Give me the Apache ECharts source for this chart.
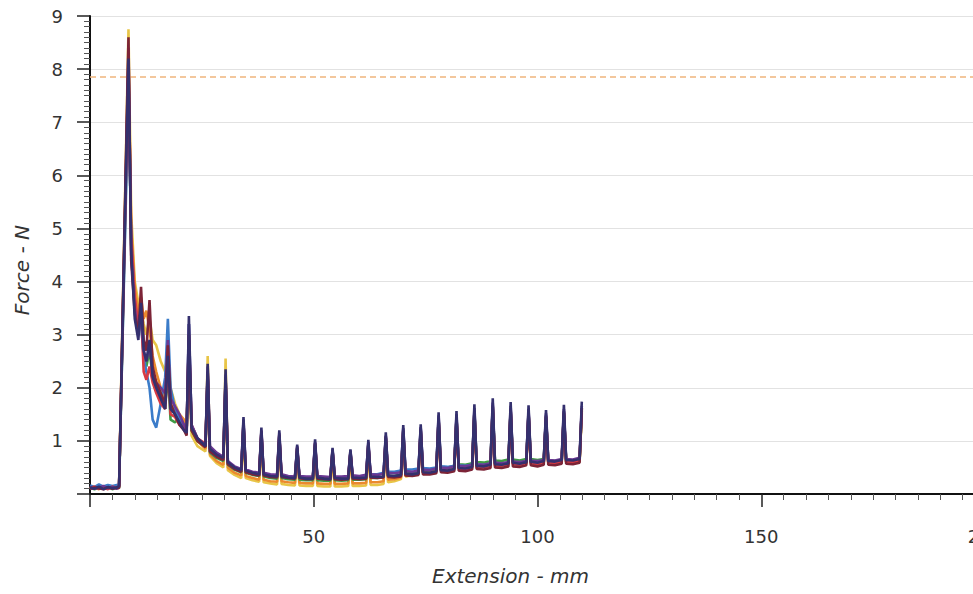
<!DOCTYPE html>
<html>
<head>
<meta charset="utf-8">
<title>Force vs Extension</title>
<script src="https://cdn.jsdelivr.net/npm/echarts@6/dist/echarts.min.js"></script>
<style>
  html, body { margin: 0; padding: 0; background: #ffffff; }
  #chart { width: 973px; height: 594px; }
</style>
</head>
<body>
<div id="chart"></div>
<script>
// Extension (mm) sample positions shared by every specimen trace
const extension = [
  0, 1, 2, 3, 4, 5, 6, 6.5,
  8.6, 9.2, 10.0, 10.8,
  11.4, 12.0, 12.6, 13.3, 14.0, 14.8, 15.8, 16.8, 17.4, 18.0, 19.0, 20.0, 21.0, 21.6, 22.1, 22.7, 24.0, 25.8,
  26.3, 26.8, 28.3, 29.8,
  30.3, 30.8, 32.3, 33.8,
  34.3, 34.8, 36.3, 37.8,
  38.3, 38.8, 40.3, 41.8,
  42.3, 42.8, 44.3, 45.8,
  46.3, 46.8, 48.3, 49.8,
  50.3, 50.8, 52.3, 53.7,
  54.2, 54.7, 56.2, 57.7,
  58.2, 58.7, 60.2, 61.7,
  62.2, 62.7, 64.2, 65.6,
  66.1, 66.6, 68.0, 69.5,
  70.0, 70.5, 72.0, 73.4,
  73.9, 74.4, 75.9, 77.4,
  77.9, 78.4, 79.9, 81.4,
  81.9, 82.4, 83.9, 85.4,
  85.9, 86.4, 88.0, 89.5,
  90.0, 90.5, 92.0, 93.5,
  94.0, 94.5, 96.0, 97.5,
  98.0, 98.5, 100.0, 101.4,
  101.9, 102.4, 103.9, 105.4,
  105.9, 106.4, 107.9, 109.4,
  109.9
];

// Force (N) for each specimen, one value per extension sample
const forceYellow = [
  0.14, 0.12, 0.16, 0.11, 0.15, 0.13, 0.12, 0.16,
  8.75, 5.3, 4.0, 3.6,
  3.5, 3.2, 3.0, 3.3, 2.9, 2.8, 2.5, 2.3, 2.7, 2.0, 1.7, 1.5, 1.3, 1.2, 2.6, 1.1, 0.9, 0.8,
  2.6, 0.72, 0.58, 0.5,
  2.55, 0.45, 0.36, 0.3,
  1.2, 0.3, 0.26, 0.23,
  1.0, 0.22, 0.2, 0.18,
  0.95, 0.19, 0.17, 0.16,
  0.76, 0.16, 0.15, 0.15,
  0.84, 0.15, 0.14, 0.14,
  0.72, 0.14, 0.14, 0.15,
  0.7, 0.15, 0.15, 0.16,
  0.82, 0.17, 0.17, 0.19,
  0.96, 0.22, 0.24, 0.28,
  1.1, 0.33, 0.35, 0.38,
  1.12, 0.4, 0.41, 0.44,
  1.32, 0.46, 0.46, 0.49,
  1.35, 0.5, 0.49, 0.52,
  1.46, 0.53, 0.52, 0.55,
  1.56, 0.55, 0.54, 0.57,
  1.5, 0.57, 0.56, 0.58,
  1.45, 0.58, 0.57, 0.59,
  1.4, 0.59, 0.58, 0.6,
  1.46, 0.6, 0.59, 0.61,
  1.52
];
const forceOrange = [
  0.1, 0.13, 0.09, 0.14, 0.1, 0.12, 0.15, 0.13,
  8.3, 5.0, 3.9, 3.4,
  3.7, 3.3, 3.45, 3.1, 2.6, 2.3, 2.0, 1.8, 2.4, 1.7, 1.55, 1.5, 1.4, 1.3, 2.9, 1.2, 1.0, 0.85,
  2.2, 0.75, 0.62, 0.55,
  2.1, 0.5, 0.4, 0.35,
  1.25, 0.34, 0.3, 0.27,
  1.05, 0.27, 0.24, 0.23,
  1.0, 0.24, 0.22, 0.21,
  0.8, 0.21, 0.2, 0.2,
  0.88, 0.2, 0.19, 0.19,
  0.75, 0.19, 0.19, 0.2,
  0.72, 0.2, 0.2, 0.21,
  0.86, 0.22, 0.22, 0.24,
  1.0, 0.27, 0.28, 0.31,
  1.12, 0.34, 0.35, 0.38,
  1.15, 0.4, 0.41, 0.44,
  1.35, 0.46, 0.46, 0.49,
  1.38, 0.5, 0.49, 0.52,
  1.5, 0.53, 0.52, 0.55,
  1.6, 0.56, 0.55, 0.57,
  1.55, 0.58, 0.56, 0.59,
  1.5, 0.59, 0.57, 0.6,
  1.42, 0.6, 0.58, 0.61,
  1.5, 0.61, 0.6, 0.62,
  1.56
];
const forceGreen = [
  0.12, 0.09, 0.13, 0.1, 0.14, 0.09, 0.13, 0.12,
  7.9, 4.7, 3.5, 3.1,
  3.3, 2.6, 2.4, 2.7, 2.2, 2.0, 1.8, 1.6, 2.3, 1.4, 1.35, 1.45, 1.3, 1.2, 2.8, 1.2, 1.0, 0.9,
  2.2, 0.78, 0.68, 0.62,
  2.1, 0.55, 0.46, 0.41,
  1.3, 0.4, 0.36, 0.34,
  1.12, 0.33, 0.3, 0.29,
  1.08, 0.3, 0.28, 0.27,
  0.85, 0.27, 0.26, 0.26,
  0.92, 0.26, 0.25, 0.25,
  0.8, 0.26, 0.25, 0.26,
  0.78, 0.27, 0.27, 0.28,
  0.92, 0.3, 0.3, 0.32,
  1.05, 0.34, 0.34, 0.37,
  1.18, 0.4, 0.4, 0.43,
  1.2, 0.45, 0.45, 0.48,
  1.4, 0.51, 0.5, 0.53,
  1.42, 0.56, 0.55, 0.58,
  1.55, 0.6, 0.59, 0.62,
  1.64, 0.63, 0.62, 0.65,
  1.58, 0.65, 0.63, 0.66,
  1.52, 0.66, 0.64, 0.66,
  1.45, 0.64, 0.62, 0.63,
  1.52, 0.62, 0.6, 0.62,
  1.58
];
const forceBlue = [
  0.16, 0.13, 0.18, 0.14, 0.17, 0.15, 0.17, 0.18,
  7.6, 4.8, 3.6, 3.1,
  3.2, 2.6, 2.3, 2.0, 1.4, 1.25, 1.7, 2.2, 3.3, 2.0, 1.6, 1.4, 1.3, 1.2, 3.2, 1.3, 1.05, 0.9,
  2.3, 0.8, 0.7, 0.65,
  2.2, 0.57, 0.48, 0.43,
  1.35, 0.42, 0.38, 0.36,
  1.16, 0.36, 0.33, 0.32,
  1.1, 0.33, 0.31, 0.31,
  0.87, 0.31, 0.3, 0.3,
  0.95, 0.31, 0.3, 0.3,
  0.82, 0.31, 0.31, 0.32,
  0.8, 0.33, 0.33, 0.35,
  0.95, 0.37, 0.37, 0.4,
  1.08, 0.42, 0.42, 0.44,
  1.22, 0.46, 0.46, 0.48,
  1.24, 0.49, 0.48, 0.5,
  1.44, 0.52, 0.51, 0.53,
  1.46, 0.54, 0.53, 0.55,
  1.58, 0.56, 0.55, 0.57,
  1.68, 0.57, 0.56, 0.58,
  1.62, 0.58, 0.57, 0.59,
  1.56, 0.6, 0.58, 0.6,
  1.48, 0.6, 0.59, 0.61,
  1.56, 0.62, 0.61, 0.63,
  1.62
];
const forceRed = [
  0.11, 0.14, 0.1, 0.13, 0.09, 0.14, 0.11, 0.15,
  8.1, 4.9, 3.7, 3.2,
  3.5, 2.3, 2.15, 2.4, 2.1, 1.9, 1.7, 1.6, 2.5, 1.5, 1.45, 1.3, 1.25, 1.2, 3.0, 1.3, 1.05, 0.95,
  2.25, 0.82, 0.72, 0.66,
  2.15, 0.58, 0.49, 0.44,
  1.32, 0.43, 0.39, 0.37,
  1.15, 0.36, 0.33, 0.32,
  1.1, 0.33, 0.31, 0.3,
  0.86, 0.3, 0.29, 0.29,
  0.94, 0.3, 0.29, 0.28,
  0.8, 0.29, 0.28, 0.29,
  0.78, 0.3, 0.29, 0.3,
  0.93, 0.32, 0.31, 0.32,
  1.06, 0.34, 0.33, 0.35,
  1.18, 0.37, 0.36, 0.38,
  1.2, 0.4, 0.39, 0.42,
  1.4, 0.44, 0.43, 0.46,
  1.42, 0.47, 0.46, 0.49,
  1.54, 0.5, 0.5, 0.53,
  1.64, 0.53, 0.53, 0.56,
  1.58, 0.56, 0.55, 0.58,
  1.52, 0.58, 0.56, 0.6,
  1.45, 0.6, 0.58, 0.62,
  1.53, 0.61, 0.6, 0.63,
  1.6
];
const forcePurple = [
  0.13, 0.1, 0.12, 0.15, 0.11, 0.13, 0.1, 0.14,
  8.4, 4.5, 3.5, 3.0,
  3.4, 2.7, 2.5, 2.8, 2.3, 2.1, 2.0, 1.9, 2.9, 1.8, 1.65, 1.5, 1.3, 1.2, 3.2, 1.3, 1.05, 0.92,
  2.4, 0.9, 0.78, 0.7,
  2.25, 0.62, 0.52, 0.47,
  1.4, 0.46, 0.42, 0.4,
  1.2, 0.4, 0.37, 0.36,
  1.15, 0.37, 0.34, 0.33,
  0.9, 0.34, 0.33, 0.33,
  0.98, 0.34, 0.33, 0.32,
  0.84, 0.33, 0.33, 0.34,
  0.82, 0.35, 0.34, 0.36,
  0.98, 0.37, 0.36, 0.38,
  1.1, 0.4, 0.39, 0.41,
  1.24, 0.43, 0.42, 0.44,
  1.26, 0.46, 0.45, 0.48,
  1.48, 0.5, 0.49, 0.52,
  1.5, 0.53, 0.52, 0.55,
  1.62, 0.56, 0.55, 0.58,
  1.72, 0.59, 0.58, 0.6,
  1.66, 0.61, 0.6, 0.62,
  1.6, 0.63, 0.62, 0.64,
  1.52, 0.64, 0.63, 0.66,
  1.6, 0.66, 0.65, 0.68,
  1.66
];
const forceMaroon = [
  0.1, 0.12, 0.11, 0.09, 0.13, 0.1, 0.12, 0.11,
  8.6, 4.4, 3.4, 3.0,
  3.9, 2.9, 2.7, 3.65, 2.4, 2.1, 1.9, 1.7, 2.8, 1.7, 1.5, 1.3, 1.2, 1.1, 3.0, 1.2, 1.0, 0.88,
  2.3, 0.8, 0.7, 0.64,
  2.2, 0.56, 0.47, 0.42,
  1.35, 0.41, 0.37, 0.35,
  1.18, 0.35, 0.32, 0.31,
  1.12, 0.32, 0.3, 0.29,
  0.88, 0.3, 0.28, 0.28,
  0.96, 0.29, 0.28, 0.27,
  0.82, 0.28, 0.27, 0.28,
  0.8, 0.29, 0.28, 0.29,
  0.95, 0.31, 0.3, 0.31,
  1.08, 0.32, 0.31, 0.33,
  1.2, 0.35, 0.34, 0.36,
  1.22, 0.37, 0.37, 0.39,
  1.42, 0.41, 0.4, 0.43,
  1.45, 0.44, 0.43, 0.46,
  1.56, 0.47, 0.46, 0.49,
  1.66, 0.5, 0.49, 0.52,
  1.6, 0.52, 0.51, 0.54,
  1.55, 0.54, 0.52, 0.55,
  1.47, 0.55, 0.54, 0.57,
  1.55, 0.57, 0.56, 0.59,
  1.62
];
const forceNavy = [
  0.12, 0.1, 0.14, 0.09, 0.13, 0.11, 0.12, 0.15,
  8.2, 4.6, 3.3, 2.9,
  3.6, 2.7, 2.5, 2.9, 2.2, 2.0, 1.8, 1.6, 2.6, 1.6, 1.5, 1.35, 1.2, 1.15, 3.35, 1.25, 1.05, 0.9,
  2.45, 0.85, 0.74, 0.68,
  2.35, 0.6, 0.5, 0.45,
  1.45, 0.44, 0.4, 0.37,
  1.25, 0.37, 0.34, 0.33,
  1.2, 0.34, 0.31, 0.3,
  0.93, 0.31, 0.29, 0.29,
  1.03, 0.31, 0.29, 0.28,
  0.87, 0.3, 0.29, 0.29,
  0.84, 0.31, 0.3, 0.31,
  1.02, 0.33, 0.32, 0.33,
  1.16, 0.35, 0.34, 0.36,
  1.3, 0.38, 0.37, 0.39,
  1.31, 0.41, 0.4, 0.43,
  1.54, 0.45, 0.44, 0.47,
  1.56, 0.49, 0.48, 0.51,
  1.69, 0.53, 0.52, 0.55,
  1.8, 0.56, 0.55, 0.58,
  1.73, 0.59, 0.57, 0.6,
  1.67, 0.61, 0.59, 0.62,
  1.58, 0.62, 0.61, 0.64,
  1.68, 0.64, 0.63, 0.66,
  1.74
];

// Axis scale settings and the reference force level
const forceTicks = [0, 9, 1];          // min, max, interval (N)
const extensionTicks = [0, 200, 50];   // min, max, interval (mm)
const referenceForce = 7.85;           // dashed reference level (N)

const traces = [
  { name: 'Specimen 1', values: forceYellow, color: '#e8c547' },
  { name: 'Specimen 2', values: forceOrange, color: '#ea8a2e' },
  { name: 'Specimen 3', values: forceGreen,  color: '#3f9b45' },
  { name: 'Specimen 4', values: forceBlue,   color: '#3b7cc9' },
  { name: 'Specimen 5', values: forceRed,    color: '#d63a43' },
  { name: 'Specimen 6', values: forcePurple, color: '#6b3893' },
  { name: 'Specimen 7', values: forceMaroon, color: '#7c2437' },
  { name: 'Specimen 8', values: forceNavy,   color: '#34306e' }
];

const FONT = 'DejaVu Sans';

const series = traces.map(function (t, k) {
  const s = {
    name: t.name,
    type: 'line',
    data: extension.map(function (x, i) { return [x, t.values[i]]; }),
    showSymbol: false,
    symbol: 'none',
    lineStyle: { color: t.color, width: 2.6 },
    itemStyle: { color: t.color },
    animation: false,
    z: 2 + k
  };
  if (k === 0) {
    s.markLine = {
      silent: true,
      symbol: 'none',
      label: { show: false },
      lineStyle: { color: '#f0b57e', type: [6, 4], width: 1.5 },
      data: [{ yAxis: referenceForce }]
    };
  }
  return s;
});

const chart = echarts.init(document.getElementById('chart'), null, { renderer: 'svg' });
chart.setOption({
  backgroundColor: '#ffffff',
  animation: false,
  grid: { left: 90, top: 16, width: 895, height: 478, containLabel: false, outerBoundsMode: 'none' },
  xAxis: {
    type: 'value',
    min: extensionTicks[0],
    max: extensionTicks[1],
    interval: extensionTicks[2],
    axisLine: { show: true, onZero: false, lineStyle: { color: '#111', width: 2 } },
    axisTick: { show: true, length: 13, lineStyle: { color: '#222', width: 1.5 } },
    minorTick: { show: true, splitNumber: 10, length: 6, lineStyle: { color: '#555', width: 1 } },
    axisLabel: {
      margin: 33,
      fontFamily: FONT,
      fontSize: 18,
      color: '#333',
      hideOverlap: false,
      formatter: function (v) { return v === 0 ? '' : String(v); }
    },
    splitLine: { show: false }
  },
  yAxis: {
    type: 'value',
    min: forceTicks[0],
    max: forceTicks[1],
    interval: forceTicks[2],
    axisLine: { show: true, lineStyle: { color: '#111', width: 2 } },
    axisTick: { show: true, length: 13, lineStyle: { color: '#222', width: 1.5 } },
    minorTick: { show: true, splitNumber: 10, length: 6, lineStyle: { color: '#555', width: 1 } },
    axisLabel: {
      margin: 27,
      fontFamily: FONT,
      fontSize: 18,
      color: '#333',
      formatter: function (v) { return v === 0 ? '' : String(v); }
    },
    splitLine: { show: true, lineStyle: { color: '#e2e2e2', width: 1 } }
  },
  graphic: [
    {
      type: 'text',
      left: 12,
      top: 225,
      rotation: Math.PI / 2,
      style: {
        text: 'Force - N',
        font: 'italic 20px "DejaVu Sans"',
        fill: '#333'
      }
    },
    {
      type: 'text',
      left: 432,
      top: 566,
      style: {
        text: 'Extension - mm',
        font: 'italic 20px "DejaVu Sans"',
        fill: '#333'
      }
    }
  ],
  series: series
});
</script>
</body>
</html>
